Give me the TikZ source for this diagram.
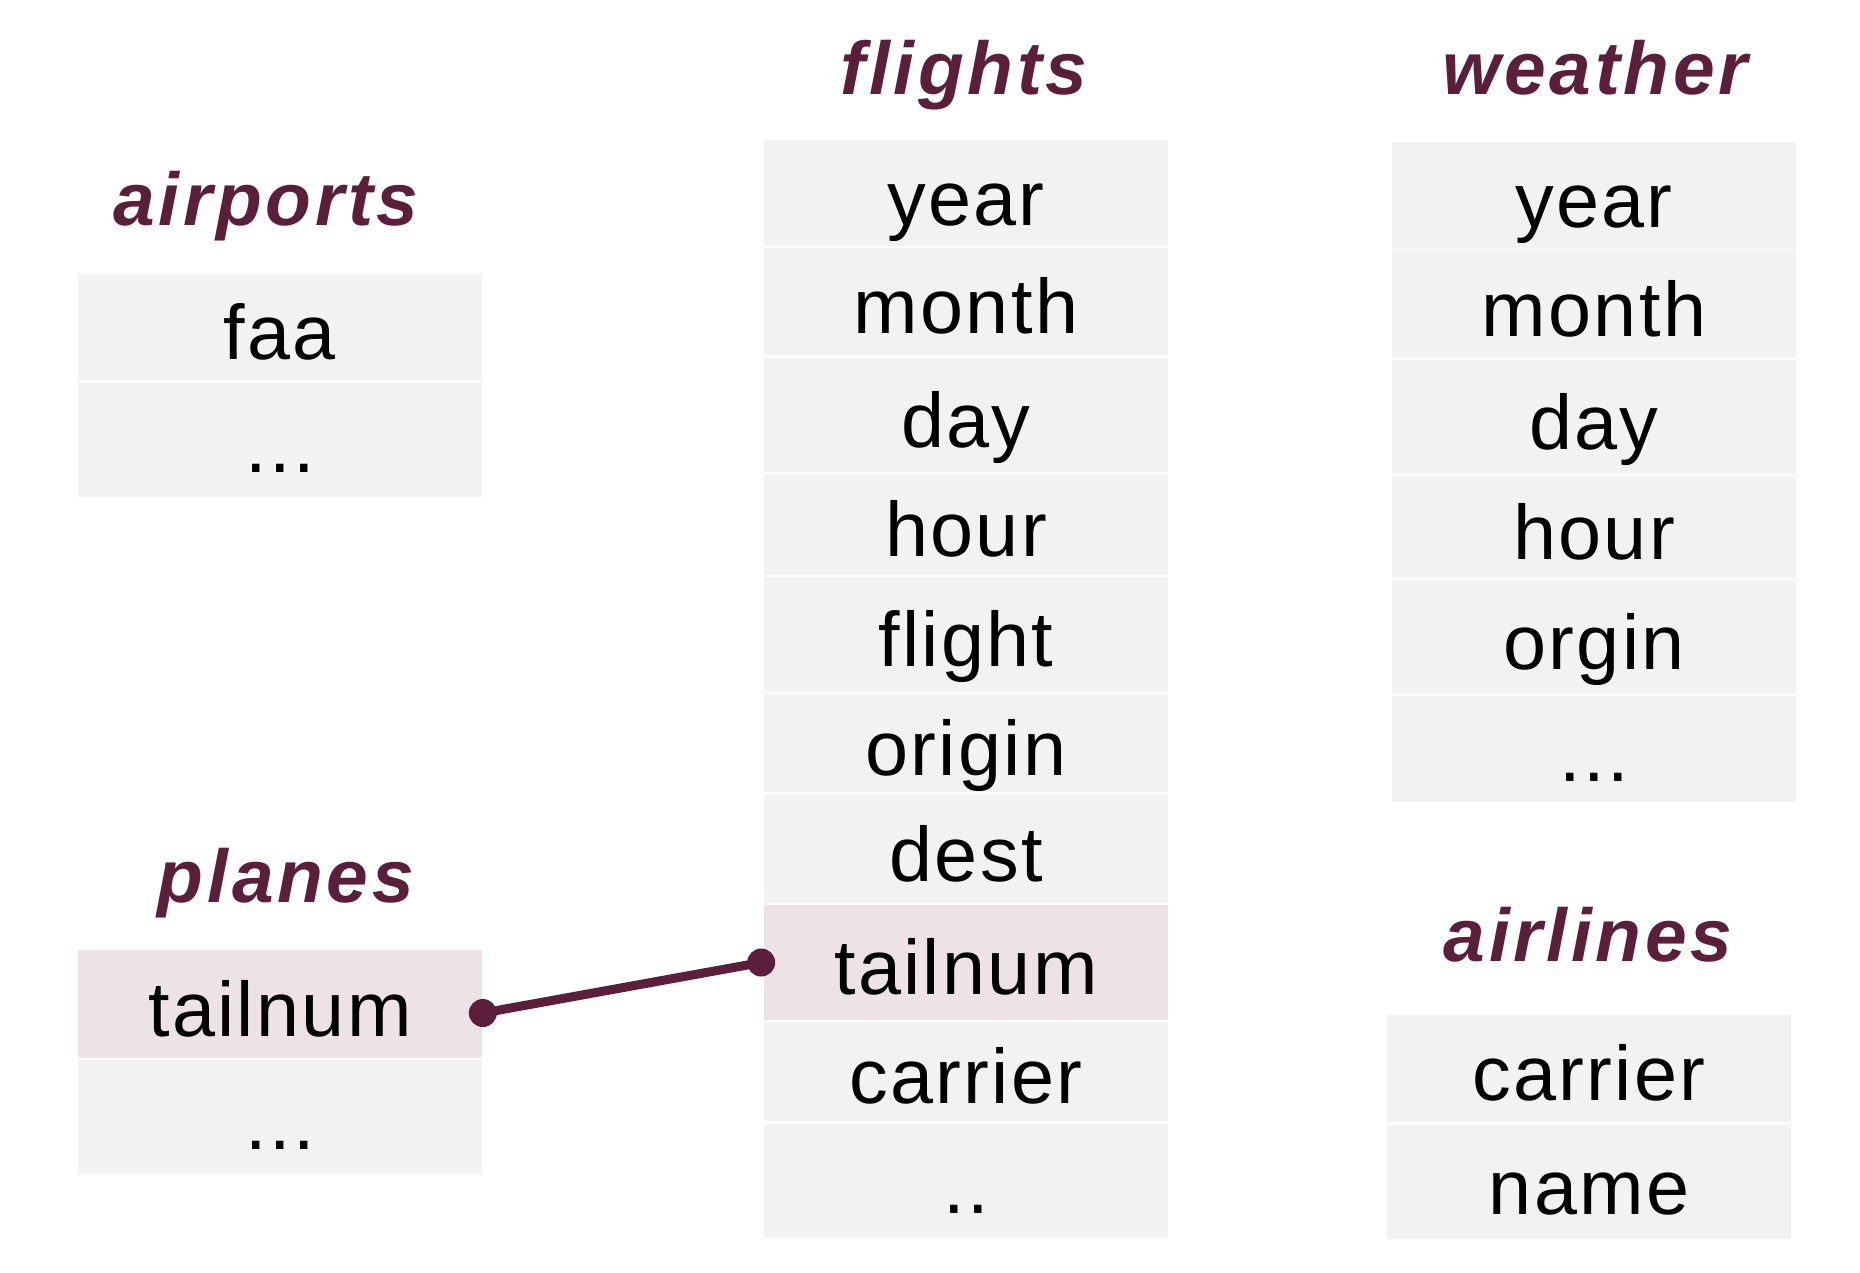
\documentclass[tikz,border=0pt]{standalone}
\usepackage{fontspec}
\setmainfont{Liberation Sans}
\newfontfamily\titlefont[LetterSpace=5]{Liberation Sans}
\newfontfamily\cellfont[LetterSpace=3]{Liberation Sans}
\usetikzlibrary{positioning, calc}
\definecolor{maroon}{HTML}{5C1F3B}
\definecolor{cellgray}{HTML}{F2F2F2}
\definecolor{keypink}{HTML}{EDE3E7}

\begin{document}
\begin{tikzpicture}[x=0.01cm,y=-0.01cm,title/.style={anchor=base,text=maroon,font=\titlefont\fontsize{21.3}{25}\selectfont\bfseries\itshape},cell/.style={fill=cellgray,inner sep=0pt,minimum width=4.04cm,text height=0.68cm,text depth=0.04cm,font=\cellfont\fontsize{22}{26}\selectfont},key/.style={cell,fill=keypink}]

  \useasboundingbox (0,0) rectangle (1860,1272);

  % Table names
  \node[title] (airports) at (266,225) {airports};
  \node[title] (flights) at (964,94) {flights};
  \node[title] (weather) at (1595,94) {weather};
  \node[title] (planes) at (286,902) {planes};
  \node[title] (airlines) at (1588,961) {airlines};

  % airports
  \node[cell,minimum height=1.06cm] (ap-faa) at (280,327) {faa};
  \node[cell,minimum height=1.14cm] (ap-more) at (280,440) {...};

  % flights
  \node[cell,minimum height=1.06cm] (fl-year) at (966,193) {year};
  \node[cell,minimum height=1.07cm] (fl-month) at (966,301.5) {month};
  \node[cell,minimum height=1.14cm] (fl-day) at (966,415) {day};
  \node[cell,minimum height=1.01cm] (fl-hour) at (966,524.5) {hour};
  \node[cell,minimum height=1.14cm] (fl-flight) at (966,634.5) {flight};
  \node[cell,minimum height=0.985cm] (fl-origin) at (966,743) {origin};
  \node[cell,minimum height=1.08cm] (fl-dest) at (966,849) {dest};
  \node[key,minimum height=1.14cm] (fl-tailnum) at (966,962.5) {tailnum};
  \node[cell,minimum height=0.995cm] (fl-carrier) at (966,1071.5) {carrier};
  \node[cell,minimum height=1.14cm] (fl-more) at (966,1181) {..};

  % weather
  \node[cell,minimum height=1.06cm] (we-year) at (1594,195.5) {year};
  \node[cell,minimum height=1.07cm] (we-month) at (1594,304) {month};
  \node[cell,minimum height=1.14cm] (we-day) at (1594,417) {day};
  \node[cell,minimum height=1.01cm] (we-hour) at (1594,527) {hour};
  \node[cell,minimum height=1.14cm] (we-orgin) at (1594,637) {orgin};
  \node[cell,minimum height=1.06cm] (we-more) at (1594,749) {...};

  % planes
  \node[key,minimum height=1.07cm] (pl-tailnum) at (280,1004) {tailnum};
  \node[cell,minimum height=1.14cm] (pl-more) at (280,1117) {...};

  % airlines
  \node[cell,minimum height=1.07cm] (al-carrier) at (1589,1068.5) {carrier};
  \node[cell,minimum height=1.14cm] (al-name) at (1589,1182) {name};

  % Key link
  \coordinate (pl-end) at ([yshift=-0.09cm]pl-tailnum.east);
  \coordinate (fl-end) at ([xshift=-0.02cm]fl-tailnum.west);
  \draw[maroon,line width=0.09cm] (pl-end) -- (fl-end);
  \fill[maroon] (pl-end) circle[radius=0.14cm];
  \fill[maroon] (fl-end) circle[radius=0.14cm];
\end{tikzpicture}
\end{document}
